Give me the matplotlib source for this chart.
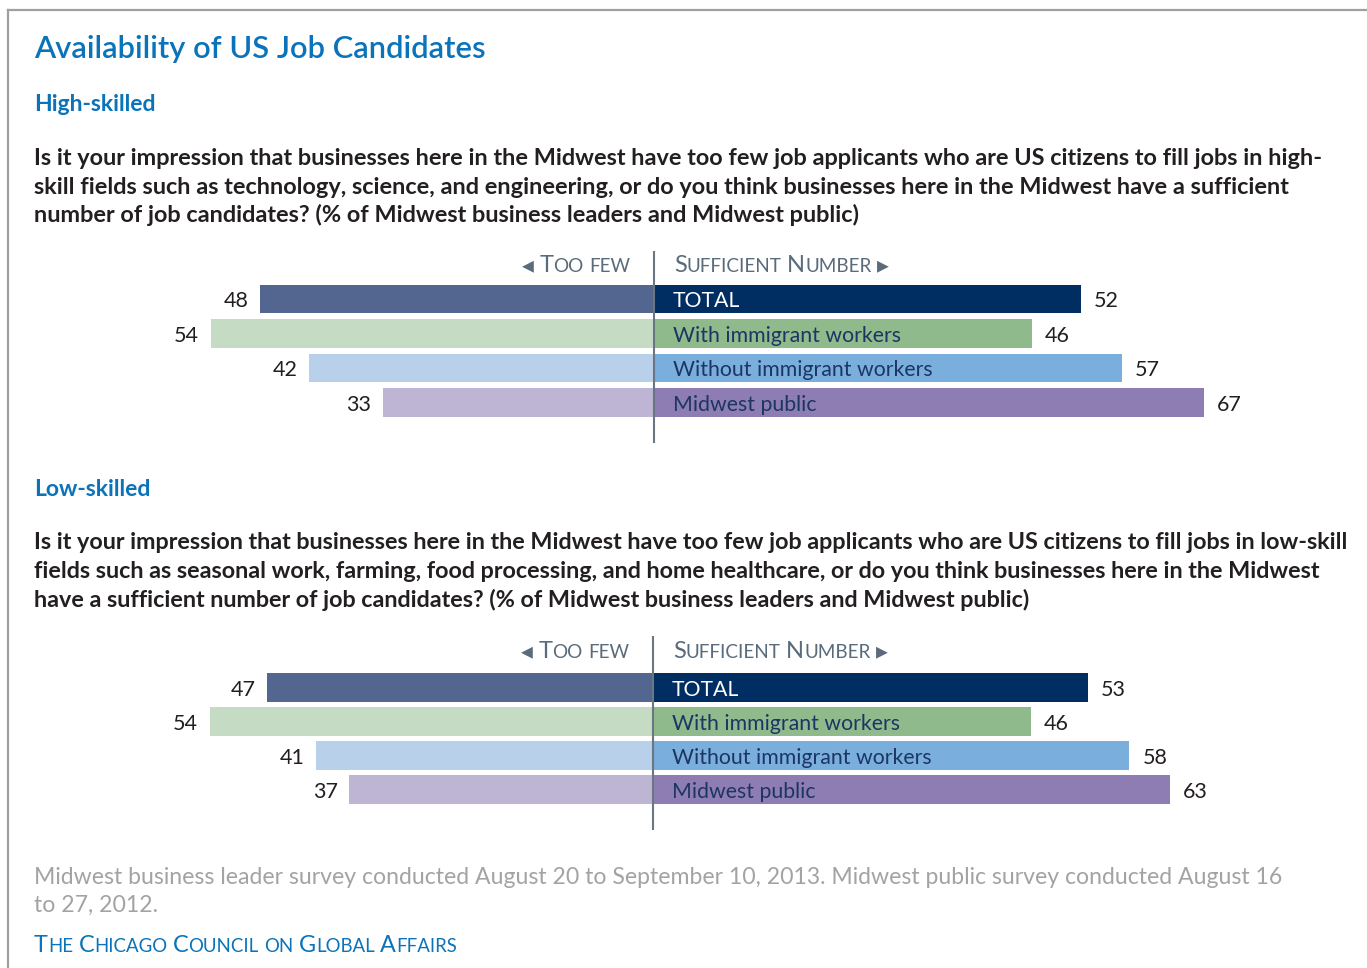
import matplotlib
matplotlib.use("Agg")
import matplotlib.pyplot as plt
from matplotlib.lines import Line2D

W, H = 1367, 968
FONT = ["Lato", "DejaVu Sans"]

# data
groups = ["TOTAL", "With immigrant workers", "Without immigrant workers", "Midwest public"]
high_too_few = [48, 54, 42, 33]
high_sufficient = [52, 46, 57, 67]
low_too_few = [47, 54, 41, 37]
low_sufficient = [53, 46, 58, 63]

left_colors = ["#52668f", "#c5dbc4", "#b9d0ea", "#beb4d4"]
right_colors = ["#002d62", "#8fba8c", "#7aaedc", "#8e7db3"]
label_colors = ["white", "#1c3563", "#1c3563", "#1c3563"]

BLUE = "#0a73b9"
DARK = "#231f20"
GRAY = "#6b7683"
PX_PER_UNIT = 8.21

fig = plt.figure(figsize=(W / 100, H / 100), dpi=100)
fig.patch.set_facecolor("white")
renderer = fig.canvas.get_renderer()


def fx(x):
    return x / W


def fy(y):
    return 1 - y / H


def txt(x, y, s, **kw):
    kw.setdefault("family", FONT)
    return fig.text(fx(x), fy(y), s, va="baseline", **kw)


def smallcaps(x, y, s, size, color, ha="left"):
    # fake small caps: capitals at full size, lower case upper-cased and shrunk
    runs = []
    for ch in s:
        if ch == " ":
            kind = "sp"
        elif ch.isupper() or not ch.isalpha():
            kind = "big"
        else:
            kind = "small"
        if runs and runs[-1][0] == kind:
            runs[-1][1] += ch
        else:
            runs.append([kind, ch])
    arts = []
    cur = x
    for kind, chunk in runs:
        if kind == "sp":
            cur += 0.32 * size * len(chunk)
            continue
        fs = size if kind == "big" else size * 0.8
        t = txt(cur, y, chunk.upper(), fontsize=fs, color=color)
        w = t.get_window_extent(renderer).width
        arts.append(t)
        cur += w
    if ha == "right":
        shift = cur - x
        for t in arts:
            px, py = t.get_position()
            t.set_position((px - shift / W, py))
    return arts


# frame
fig.add_artist(Line2D([fx(8), fx(8)], [fy(10), fy(H)], color="#a0a0a0", lw=1.6))
fig.add_artist(Line2D([fx(8), 1], [fy(10), fy(10)], color="#a0a0a0", lw=1.6))

# titles
txt(34, 58, "Availability of US Job Candidates", fontsize=22.2, color=BLUE, weight="semibold")
txt(34, 111, "High-skilled", fontsize=16.5, color=BLUE, weight="bold")
txt(34, 496, "Low-skilled", fontsize=16.5, color=BLUE, weight="bold")

q_high = [
    "Is it your impression that businesses here in the Midwest have too few job applicants who are US citizens to fill jobs in high-",
    "skill fields such as technology, science, and engineering, or do you think businesses here in the Midwest have a sufficient",
    "number of job candidates? (% of Midwest business leaders and Midwest public)",
]
q_low = [
    "Is it your impression that businesses here in the Midwest have too few job applicants who are US citizens to fill jobs in low-skill",
    "fields such as seasonal work, farming, food processing, and home healthcare, or do you think businesses here in the Midwest",
    "have a sufficient number of job candidates? (% of Midwest business leaders and Midwest public)",
]
for i, line in enumerate(q_high):
    txt(34, 165 + i * 28.5, line, fontsize=16.9, color=DARK, weight="bold")
for i, line in enumerate(q_low):
    txt(34, 549 + i * 29, line, fontsize=16.8, color=DARK, weight="bold")


def butterfly(top, bottom, zero_x, row_y, too_few, sufficient, head_y):
    ax = fig.add_axes([0, fy(bottom), 1, (bottom - top) / H])
    ax.set_xlim(-zero_x / PX_PER_UNIT, (W - zero_x) / PX_PER_UNIT)
    step = row_y[1] - row_y[0]
    ax.set_ylim(3 + (bottom - row_y[3]) / step, -(row_y[0] - top) / step)
    ax.axis("off")
    ypos = range(len(groups))
    ax.barh(ypos, [-v for v in too_few], height=0.84, color=left_colors)
    ax.barh(ypos, sufficient, height=0.84, color=right_colors)
    ax.axvline(0, color=GRAY, lw=1.5)
    for i, g in enumerate(groups):
        ty = i + 0.07
        ax.text(2.3, ty, g, va="center", ha="left", fontsize=15.3, color=label_colors[i],
                family=FONT)
        ax.text(sufficient[i] + 1.6, ty, str(sufficient[i]), va="center", ha="left",
                fontsize=15.5, color=DARK, family=FONT)
        ax.text(-too_few[i] - 1.4, ty, str(too_few[i]), va="center", ha="right",
                fontsize=15.5, color=DARK, family=FONT)
    smallcaps(zero_x - 24, head_y, "◂ Too few", 17, "#5a6b7b", ha="right")
    smallcaps(zero_x + 20, head_y, "Sufficient Number ▸", 17, "#5a6b7b")
    return ax


butterfly(251, 443, 654, [299, 333.5, 368, 402.5], high_too_few, high_sufficient, 272)
butterfly(636, 830, 653, [687, 721, 755.5, 790], low_too_few, low_sufficient, 658)

# footer
txt(34, 884, "Midwest business leader survey conducted August 20 to September 10, 2013. Midwest public survey conducted August 16",
    fontsize=16.6, color="#a3a3a3")
txt(34, 912, "to 27, 2012.", fontsize=16.6, color="#a3a3a3")
smallcaps(34, 952, "The Chicago Council on Global Affairs", 16.8, BLUE)

fig.savefig("out.png", dpi=100, facecolor="white")
